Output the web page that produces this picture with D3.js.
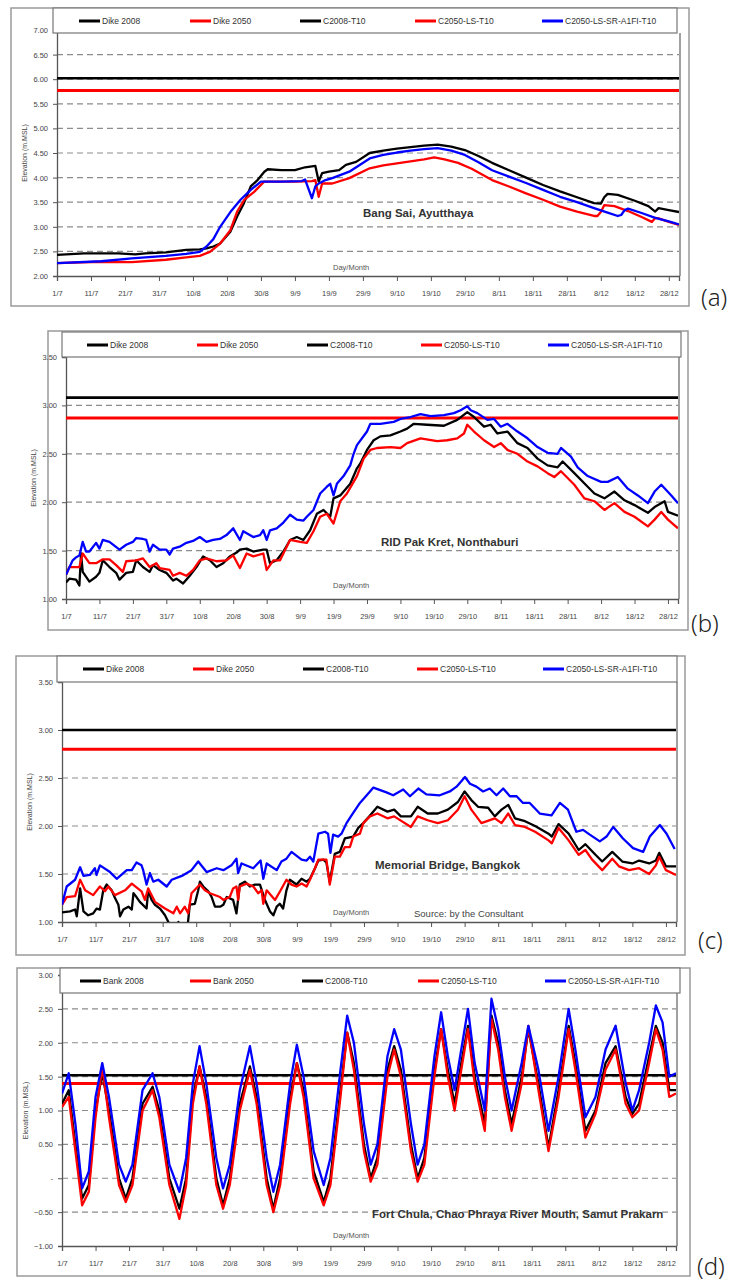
<!DOCTYPE html>
<html>
<head>
<meta charset="utf-8">
<script src="https://cdn.jsdelivr.net/npm/d3@7"></script>
<style>
  body { margin: 0; background: #fff; }
  svg { display: block; font-family: "Liberation Sans", Arial, sans-serif; }
</style>
</head>
<body>
<svg id="chart" width="735" height="1284"></svg>
<script>
// ---- data (day 0 = 1 July, values in m.MSL) ----
const tickDays = [0, 10, 20, 30, 40, 50, 60, 70, 80, 90, 100, 110, 120, 130, 140, 150, 160, 170, 180];
const tickLabels = ["1/7", "11/7", "21/7", "31/7", "10/8", "20/8", "30/8", "9/9", "19/9", "29/9",
                    "9/10", "19/10", "29/10", "8/11", "18/11", "28/11", "8/12", "18/12", "28/12"];
const dikeNames = ["Dike 2008", "Dike 2050", "C2008-T10", "C2050-LS-T10", "C2050-LS-SR-A1FI-T10"];
const bankNames = ["Bank 2008", "Bank 2050", "C2008-T10", "C2050-LS-T10", "C2050-LS-SR-A1FI-T10"];

const yTicksA = [2, 2.5, 3, 3.5, 4, 4.5, 5, 5.5, 6, 6.5, 7];
const yTicksBC = [1, 1.5, 2, 2.5, 3, 3.5];
const yTicksD = [-1, -0.5, 0, 0.5, 1, 1.5, 2, 2.5, 3];

// (a) Bang Sai
const levelsA = [6.02, 5.77];
const aC2008 = [[0,2.43],[8,2.46],[18,2.46],[23,2.44],[26,2.46],[32,2.48],[38,2.53],[42,2.54],[44,2.56],[46,2.6],[48,2.66],[51,2.9],[53,3.21],[55,3.48],[57,3.82],[59,3.95],[61,4.12],[62,4.17],[66,4.15],[70,4.15],[73,4.21],[76,4.24],[77,3.92],[78,4.09],[80,4.12],[83,4.15],[85,4.26],[88,4.32],[92,4.5],[96,4.55],[100,4.59],[104,4.62],[108,4.65],[112,4.67],[116,4.63],[120,4.56],[124,4.44],[128,4.3],[133,4.15],[138,4.0],[143,3.85],[148,3.72],[153,3.6],[158,3.48],[160,3.47],[161,3.6],[162,3.67],[165,3.65],[170,3.53],[174,3.42],[176,3.31],[177,3.38],[180,3.34],[183,3.3]];
const aC2050 = [[0,2.26],[13,2.29],[22,2.28],[32,2.33],[38,2.38],[42,2.41],[45,2.49],[48,2.66],[51,2.93],[53,3.31],[55,3.54],[58,3.71],[61,3.92],[70,3.92],[75,3.93],[76,3.95],[77,3.61],[78,3.88],[81,3.88],[86,3.99],[92,4.19],[96,4.25],[100,4.29],[104,4.33],[108,4.37],[111,4.41],[114,4.37],[118,4.3],[122,4.18],[128,3.95],[133,3.82],[138,3.68],[143,3.55],[148,3.41],[153,3.31],[158,3.22],[159,3.22],[160,3.3],[161,3.44],[164,3.42],[168,3.32],[172,3.2],[175,3.1],[176,3.18],[177,3.17],[180,3.1],[183,3.04]];
const aA1FI = [[0,2.26],[13,2.3],[22,2.36],[32,2.41],[38,2.45],[42,2.49],[44,2.6],[46,2.75],[48,3.0],[51,3.3],[54,3.55],[57,3.75],[60,3.92],[66,3.92],[72,3.93],[73,3.96],[75,3.58],[76,3.82],[77,3.88],[79,3.95],[81,3.99],[86,4.12],[92,4.39],[96,4.46],[100,4.51],[104,4.55],[108,4.58],[112,4.6],[116,4.55],[120,4.46],[124,4.31],[128,4.15],[133,4.02],[138,3.89],[143,3.75],[148,3.61],[153,3.5],[158,3.38],[162,3.29],[165,3.22],[166,3.24],[167,3.34],[168,3.37],[172,3.28],[176,3.18],[180,3.11],[183,3.05]];

// (b) RID Pak Kret
const levelsB = [3.08, 2.87];
const bC2008 = [[0,1.17],[1,1.21],[3,1.2],[4,1.14],[4.5,1.47],[5,1.28],[7,1.18],[9,1.23],[10,1.27],[11,1.4],[13,1.33],[15,1.27],[16,1.2],[18,1.27],[20,1.28],[21,1.4],[23,1.33],[25,1.28],[26,1.35],[28,1.3],[30,1.27],[32,1.19],[33,1.21],[35,1.16],[37,1.24],[39,1.33],[41,1.44],[43,1.4],[45,1.33],[47,1.37],[49,1.44],[51,1.48],[52,1.51],[54,1.52],[56,1.49],[59,1.51],[60,1.51],[61,1.37],[63,1.4],[65,1.49],[67,1.61],[69,1.64],[71,1.61],[73,1.71],[75,1.88],[77,1.92],[79,1.85],[80,2.04],[82,2.07],[85,2.19],[87,2.35],[88,2.4],[90,2.54],[92,2.64],[94,2.68],[97,2.69],[100,2.73],[102,2.76],[104,2.81],[108,2.8],[113,2.79],[117,2.85],[120,2.93],[122,2.88],[125,2.78],[127,2.8],[129,2.71],[132,2.73],[135,2.61],[138,2.56],[141,2.45],[144,2.38],[147,2.36],[148.5,2.42],[152,2.3],[156,2.16],[158,2.09],[161,2.04],[164,2.11],[167,2.02],[170,1.97],[174,1.89],[176,1.95],[179,2.01],[180,1.9],[183,1.86]];
const bC2050 = [[0,1.25],[1,1.33],[4,1.33],[5,1.47],[7,1.37],[9,1.37],[11,1.41],[13,1.41],[15,1.35],[17,1.28],[18,1.39],[21,1.4],[23,1.42],[25,1.33],[27,1.37],[28,1.32],[31,1.3],[32,1.24],[34,1.27],[36,1.24],[38,1.3],[40,1.4],[42,1.42],[45,1.39],[48,1.4],[50,1.45],[52,1.32],[54,1.47],[56,1.44],[59,1.47],[60,1.3],[62,1.4],[64,1.4],[67,1.61],[70,1.59],[72,1.58],[74,1.7],[76,1.85],[78,1.88],[80,1.78],[82,2.01],[84,2.09],[87,2.27],[89,2.45],[91,2.54],[93,2.56],[97,2.57],[100,2.56],[102,2.61],[106,2.66],[111,2.63],[114,2.64],[117,2.66],[119,2.71],[120,2.8],[122,2.73],[125,2.64],[128,2.57],[130,2.61],[132,2.54],[135,2.5],[138,2.42],[141,2.37],[144,2.3],[146,2.26],[148,2.32],[152,2.18],[155,2.04],[158,2.01],[161,1.92],[164,1.99],[167,1.9],[170,1.85],[174,1.75],[176,1.82],[178,1.9],[180,1.82],[183,1.73]];
const bA1FI = [[0,1.25],[2,1.4],[3,1.43],[4,1.45],[5,1.59],[6,1.49],[7,1.49],[9,1.58],[10,1.52],[11,1.61],[13,1.59],[16,1.51],[18,1.56],[20,1.59],[21,1.63],[23,1.62],[24,1.61],[25,1.49],[26,1.56],[28,1.51],[30,1.51],[31,1.46],[32,1.52],[34,1.54],[36,1.58],[38,1.6],[40,1.64],[42,1.59],[44,1.61],[46,1.62],[48,1.66],[50,1.73],[52,1.61],[53,1.7],[56,1.64],[58,1.66],[59,1.71],[60,1.61],[61,1.71],[63,1.73],[65,1.79],[67,1.87],[69,1.82],[71,1.81],[72,1.85],[74,1.92],[76,2.09],[78,2.16],[79,2.19],[80,2.07],[81,2.19],[83,2.27],[85,2.38],[86,2.5],[87,2.59],[90,2.73],[91,2.81],[94,2.81],[98,2.83],[100,2.86],[103,2.88],[106,2.91],[109,2.89],[113,2.9],[116,2.92],[118,2.95],[120,2.99],[121,2.95],[123,2.92],[126,2.85],[128,2.86],[130,2.78],[132,2.81],[135,2.73],[138,2.66],[141,2.57],[144,2.51],[147,2.5],[148,2.56],[151,2.47],[153,2.36],[156,2.27],[160,2.21],[162,2.21],[165,2.26],[168,2.14],[171,2.07],[174,1.99],[176,2.11],[178,2.18],[181,2.07],[183,1.99]];

// (c) Memorial Bridge
const levelsC = [3.0, 2.8];
const cC2008 = [[0,1.1],[2.4,1.11],[3.9,1.13],[4.4,1.06],[5.4,1.35],[6.4,1.11],[7.8,1.07],[9.3,1.09],[10.3,1.14],[11.3,1.13],[12.3,1.33],[13.3,1.39],[14.8,1.33],[15.8,1.25],[16.8,1.18],[17.3,1.06],[18.3,1.13],[19.8,1.16],[20.8,1.13],[21.3,1.3],[22.2,1.26],[23.2,1.21],[25.2,1.14],[25.7,1.33],[26.7,1.23],[27.7,1.18],[29.2,1.14],[30.7,1.07],[31.7,1.0],[32.7,0.92],[33.7,0.85],[34.7,1.0],[35.6,0.95],[36.6,0.92],[37.1,0.85],[38.1,1.18],[39.6,1.19],[40.6,1.33],[41.1,1.42],[42.1,1.37],[43.6,1.32],[44.6,1.26],[45.6,1.16],[47.1,1.16],[48.1,1.18],[49.1,1.26],[51,1.23],[52,1.09],[53,1.39],[54.5,1.42],[56,1.37],[57.5,1.39],[59,1.39],[60.5,1.23],[62,1.11],[63,1.07],[64,1.16],[64.9,1.19],[65.9,1.14],[66.9,1.33],[67.9,1.44],[69.9,1.39],[71.4,1.45],[72.9,1.42],[73.9,1.45],[75.4,1.56],[76.4,1.64],[77.9,1.65],[78.8,1.62],[79.8,1.42],[81.3,1.71],[82.8,1.73],[84.3,1.87],[86.8,1.89],[88.3,1.98],[89.8,2.03],[91.8,2.11],[94,2.2],[97,2.15],[99,2.17],[101,2.1],[104,2.1],[106,2.2],[109,2.13],[112,2.13],[115,2.17],[118,2.25],[120,2.36],[122,2.27],[124,2.2],[127,2.19],[129,2.1],[131,2.17],[133,2.22],[135,2.08],[138,2.05],[141,2.0],[145,1.92],[146,1.89],[148,2.02],[151,1.92],[154,1.75],[156,1.81],[159,1.7],[161,1.63],[164,1.73],[167,1.63],[170,1.61],[172,1.64],[175,1.61],[177,1.64],[178,1.72],[180,1.58],[183,1.58]];
const cC2050 = [[0,1.18],[1.4,1.26],[3.9,1.27],[5.4,1.44],[6.9,1.33],[9.3,1.28],[11.3,1.37],[12.8,1.32],[13.8,1.37],[15.8,1.28],[18.8,1.33],[20.8,1.4],[23.7,1.32],[24.7,1.23],[25.7,1.35],[27.7,1.21],[30.7,1.14],[33.2,1.09],[34.2,1.16],[35.2,1.09],[36.6,1.16],[37.6,1.09],[38.6,1.3],[41.1,1.39],[42.6,1.33],[44.1,1.3],[47.1,1.26],[48.1,1.23],[50,1.26],[51,1.35],[52,1.37],[52.5,1.23],[53,1.37],[55,1.4],[57,1.37],[58.5,1.3],[59.5,1.33],[60,1.19],[61,1.33],[63.5,1.23],[65,1.32],[66.9,1.44],[68.4,1.39],[69.9,1.37],[71.4,1.4],[72.9,1.37],[73.9,1.44],[75.4,1.56],[76.4,1.65],[78.8,1.65],[79.8,1.39],[81.3,1.68],[82.8,1.68],[84.3,1.78],[85.8,1.78],[86.8,1.89],[88.8,1.92],[89.8,2.03],[91.8,2.1],[94,2.13],[97,2.08],[99,2.1],[104,1.99],[106,2.1],[109,2.06],[112,2.03],[115,2.06],[118,2.17],[120,2.31],[122,2.17],[125,2.03],[129,2.08],[131,2.03],[133,2.13],[135,2.01],[138,1.99],[141,1.94],[145,1.85],[146,1.82],[148,1.98],[151,1.85],[154,1.7],[156,1.75],[158,1.65],[161,1.54],[164,1.66],[166,1.58],[169,1.54],[172,1.56],[175,1.5],[177,1.59],[178,1.68],[180,1.54],[183,1.49]];
const cA1FI = [[0,1.18],[1.4,1.37],[3.9,1.44],[5.4,1.57],[6.4,1.48],[8.3,1.49],[9.8,1.56],[10.3,1.49],[11.3,1.59],[14.3,1.52],[16.3,1.45],[19.3,1.54],[20.8,1.54],[22.2,1.62],[23.7,1.59],[24.2,1.54],[25.2,1.39],[26.2,1.51],[27.2,1.42],[28.7,1.44],[31.2,1.37],[32.7,1.44],[35.7,1.48],[38.6,1.54],[40.6,1.63],[43.1,1.52],[46.1,1.56],[48.1,1.54],[50.5,1.59],[52,1.66],[52.5,1.51],[53.5,1.61],[57,1.56],[59.2,1.64],[60,1.45],[61,1.61],[64,1.54],[65.4,1.63],[66.9,1.66],[68.4,1.73],[71.4,1.65],[72.9,1.64],[73.9,1.68],[74.9,1.63],[76.4,1.92],[78.4,1.94],[79.3,1.92],[80,1.72],[80.8,1.91],[82.3,1.89],[83.3,1.92],[84.8,2.03],[86.3,2.11],[88.8,2.24],[91.8,2.36],[92.8,2.4],[96.7,2.35],[98.7,2.32],[101.7,2.38],[103.7,2.31],[106.2,2.39],[108.6,2.33],[112.6,2.32],[115.6,2.36],[117.6,2.41],[120.1,2.51],[121.6,2.44],[123.5,2.41],[125.5,2.36],[127.5,2.39],[129.5,2.32],[131.5,2.39],[133.5,2.31],[135.5,2.31],[137.4,2.24],[139.4,2.24],[142.4,2.13],[145.9,2.11],[148.4,2.24],[150.8,2.17],[153.3,1.94],[155.3,1.96],[157.3,1.91],[160.3,1.84],[162.3,1.89],[164.3,1.99],[167.2,1.87],[170.2,1.77],[173.2,1.73],[175.2,1.89],[178.2,2.01],[180.2,1.92],[182.6,1.76]];

// (d) Fort Chula
const levelsD = [1.52, 1.4];
const dC2008 = [[0,1.1],[2,1.3],[4,0.5],[6,-0.3],[8,-0.1],[10,1.0],[12,1.55],[14,1.0],[17,0.0],[19,-0.3],[21,0.0],[24,1.1],[27,1.35],[29,1.0],[32,0.0],[35,-0.45],[37,0.0],[39,1.2],[41,1.65],[43,1.2],[46,0.0],[48,-0.4],[50,0.0],[53,1.1],[56,1.65],[58,1.2],[61,0.0],[63,-0.45],[65,0.0],[68,1.2],[70,1.7],[72,1.3],[75,0.1],[78,-0.35],[80,0.0],[83,1.3],[85,2.15],[87,1.7],[90,0.5],[92,0.0],[94,0.3],[97,1.6],[99,1.95],[101,1.6],[104,0.5],[106,0.0],[108,0.3],[111,1.6],[113,2.2],[115,1.6],[117,1.1],[119,1.7],[121,2.25],[123,1.5],[126,0.8],[128,2.4],[130,2.0],[132,1.3],[134,0.8],[137,1.5],[139,2.2],[142,1.4],[145,0.45],[148,1.3],[151,2.25],[153,1.7],[156,0.7],[159,1.0],[162,1.7],[165,1.95],[168,1.2],[170,0.95],[172,1.1],[175,1.8],[177,2.25],[179,2.0],[181,1.3],[183,1.3]];
const dC2050 = [[0,1.05],[2,1.2],[4,0.4],[6,-0.4],[8,-0.2],[10,0.9],[12,1.65],[14,0.9],[17,-0.1],[19,-0.35],[21,-0.1],[24,1.0],[27,1.3],[29,0.9],[32,-0.1],[35,-0.6],[37,-0.1],[39,1.1],[41,1.65],[43,1.1],[46,-0.1],[48,-0.45],[50,-0.1],[53,1.0],[56,1.6],[58,1.1],[61,-0.1],[63,-0.5],[65,-0.1],[68,1.1],[70,1.7],[72,1.2],[75,0.0],[78,-0.4],[80,-0.1],[83,1.2],[85,2.15],[87,1.6],[90,0.4],[92,-0.05],[94,0.2],[97,1.5],[99,1.9],[101,1.5],[104,0.4],[106,-0.05],[108,0.2],[111,1.5],[113,2.2],[115,1.5],[117,1.0],[119,1.6],[121,2.2],[123,1.4],[126,0.7],[128,2.35],[130,1.9],[132,1.2],[134,0.7],[137,1.4],[139,2.25],[142,1.3],[145,0.4],[148,1.2],[151,2.2],[153,1.6],[156,0.6],[159,0.95],[162,1.6],[165,1.9],[168,1.1],[170,0.9],[172,1.0],[175,1.7],[177,2.2],[179,1.9],[181,1.2],[183,1.25]];
const dA1FI = [[0,1.25],[2,1.55],[4,0.8],[6,-0.15],[8,0.1],[10,1.2],[12,1.7],[14,1.2],[17,0.2],[19,-0.05],[21,0.2],[24,1.3],[27,1.55],[29,1.2],[32,0.2],[35,-0.2],[37,0.3],[39,1.4],[41,1.95],[43,1.4],[46,0.3],[48,-0.15],[50,0.2],[53,1.3],[56,1.95],[58,1.4],[61,0.3],[63,-0.2],[65,0.2],[68,1.4],[70,1.97],[72,1.5],[75,0.4],[78,-0.1],[80,0.3],[83,1.6],[85,2.4],[87,2.0],[90,0.8],[92,0.2],[94,0.5],[97,1.8],[99,2.2],[101,1.9],[104,0.8],[106,0.2],[108,0.5],[111,1.8],[113,2.45],[115,1.8],[117,1.3],[119,1.9],[121,2.5],[123,1.7],[126,1.0],[128,2.65],[130,2.2],[132,1.5],[134,1.0],[137,1.7],[139,2.25],[142,1.6],[145,0.7],[148,1.5],[151,2.5],[153,1.9],[156,0.9],[159,1.2],[162,1.9],[165,2.25],[168,1.4],[170,1.0],[172,1.3],[175,2.0],[177,2.55],[179,2.3],[181,1.5],[183,1.55]];

// ---- layout ----
const svg = d3.select("#chart");
const seriesColors = ["#000000", "#ff0000", "#000000", "#ff0000", "#0000ff"];

const panels = [
  { id: "a", frame: [11, 8, 689, 306], legend: [53, 8, 677, 33], x0: 57, x1: 679, yTop: 30, yBot: 276,
    yTicks: yTicksA, levels: levelsA, series: [aC2008, aC2050, aA1FI], names: dikeNames,
    legendX: [79, 190, 300, 415, 542], legendY: 21, ylabX: 27,
    title: "Bang Sai, Ayutthaya", titlePos: [363, 217], dayPos: [333, 270], tag: [701, 306] },
  { id: "b", frame: [48, 331, 688, 630], legend: [62, 332, 681, 357], x0: 66, x1: 678, yTop: 357, yBot: 599,
    yTicks: yTicksBC, levels: levelsB, series: [bC2008, bC2050, bA1FI], names: dikeNames,
    legendX: [87, 197, 307, 421, 548], legendY: 345, ylabX: 36,
    title: "RID Pak Kret, Nonthaburi", titlePos: [381, 546], dayPos: [333, 588], tag: [691, 632] },
  { id: "c", frame: [16, 656, 685, 955], legend: [57, 656, 677, 682], x0: 62, x1: 676, yTop: 682, yBot: 922,
    yTicks: yTicksBC, levels: levelsC, series: [cC2008, cC2050, cA1FI], names: dikeNames,
    legendX: [83, 193, 303, 417, 543], legendY: 669, ylabX: 32,
    title: "Memorial Bridge, Bangkok", titlePos: [375, 869], dayPos: [333, 915], tag: [698, 949],
    note: "Source: by the Consultant", notePos: [414, 917] },
  { id: "d", frame: [17, 968, 690, 1276], legend: [60, 968, 680, 993], x0: 62, x1: 676, yTop: 975, yBot: 1246,
    yTicks: yTicksD, levels: levelsD, series: [dC2008, dC2050, dA1FI], names: bankNames,
    legendX: [80, 190, 302, 418, 545], legendY: 981, ylabX: 28,
    title: "Fort Chula, Chao Phraya River Mouth, Samut Prakarn", titlePos: [372, 1218], dayPos: [333, 1238], tag: [697, 1275] }
];

function yFmt(d) {
  if (d === 0) return "-";
  return d3.format(".2f")(d);
}

function drawPanel(p) {
  const g = svg.append("g").attr("class", "panel-" + p.id);
  const yMin = d3.min(p.yTicks), yMax = d3.max(p.yTicks);

  const x = d3.scaleLinear().domain([0, 183]).range([p.x0, p.x1]);
  const y = d3.scaleLinear().domain([yMin, yMax]).range([p.yBot, p.yTop]);

  // outer frame
  g.append("rect")
    .attr("x", p.frame[0]).attr("y", p.frame[1])
    .attr("width", p.frame[2] - p.frame[0]).attr("height", p.frame[3] - p.frame[1])
    .attr("fill", "#fff").attr("stroke", "#9a9a9a").attr("stroke-width", 1.5);

  // dashed gridlines
  g.append("g")
    .selectAll("line")
    .data(p.yTicks.filter(d => d > yMin && d < yMax))
    .join("line")
      .attr("x1", p.x0).attr("x2", p.x1)
      .attr("y1", d => y(d)).attr("y2", d => y(d))
      .attr("stroke", "#8c8c8c").attr("stroke-width", 1.2)
      .attr("stroke-dasharray", "6,4");

  // right edge of plot area
  g.append("line")
    .attr("x1", p.x1 + 1).attr("x2", p.x1 + 1)
    .attr("y1", p.legend[3]).attr("y2", p.yBot)
    .attr("stroke", "#a0a0a0").attr("stroke-width", 2);

  // axes
  const yAxis = g.append("g")
    .attr("transform", "translate(" + p.x0 + ",0)")
    .call(d3.axisLeft(y).tickValues(p.yTicks).tickSize(4).tickPadding(5).tickFormat(yFmt));
  yAxis.select(".domain").attr("stroke", "#555").attr("stroke-width", 1.3);
  yAxis.selectAll(".tick line").attr("stroke", "#555");
  yAxis.selectAll("text").attr("font-size", 7.5).attr("fill", "#444").attr("font-family", "Liberation Sans, Arial");

  const xAxis = g.append("g")
    .attr("transform", "translate(0," + p.yBot + ")")
    .call(d3.axisBottom(x).tickValues(tickDays).tickSize(5).tickPadding(10)
      .tickFormat((d, i) => tickLabels[i]));
  xAxis.select(".domain").attr("stroke", "#555").attr("stroke-width", 1.3);
  xAxis.selectAll(".tick line").attr("stroke", "#555");
  xAxis.selectAll("text").attr("font-size", 7.5).attr("fill", "#444").attr("font-family", "Liberation Sans, Arial");

  // clip for the series
  svg.append("clipPath").attr("id", "clip-" + p.id)
    .append("rect").attr("x", p.x0).attr("y", p.yTop - 2)
    .attr("width", p.x1 - p.x0).attr("height", p.yBot - p.yTop + 2);

  // dike / bank levels
  g.append("g").selectAll("line")
    .data(p.levels)
    .join("line")
      .attr("x1", x(0)).attr("x2", x(183))
      .attr("y1", d => y(d)).attr("y2", d => y(d))
      .attr("stroke", (d, i) => seriesColors[i])
      .attr("stroke-width", (d, i) => i === 0 ? 2.6 : 3);

  const line = d3.line()
    .x(d => x(d[0]))
    .y(d => y(d[1]));

  g.append("g").attr("clip-path", "url(#clip-" + p.id + ")")
    .selectAll("path")
    .data(p.series)
    .join("path")
      .attr("d", line)
      .attr("fill", "none")
      .attr("stroke", (d, i) => seriesColors[i + 2])
      .attr("stroke-width", 2.3)
      .attr("stroke-linejoin", "round");

  // legend
  const lg = g.append("g");
  lg.append("rect")
    .attr("x", p.legend[0]).attr("y", p.legend[1])
    .attr("width", p.legend[2] - p.legend[0]).attr("height", p.legend[3] - p.legend[1])
    .attr("fill", "#fff").attr("stroke", "#777").attr("stroke-width", 1.2);
  const item = lg.selectAll("g.item")
    .data(p.names)
    .join("g").attr("class", "item")
    .attr("transform", (d, i) => "translate(" + p.legendX[i] + "," + p.legendY + ")");
  item.append("line")
    .attr("x1", 0).attr("x2", 21).attr("y1", 0).attr("y2", 0)
    .attr("stroke", (d, i) => seriesColors[i]).attr("stroke-width", 3);
  item.append("text")
    .attr("x", 23).attr("y", 3)
    .attr("font-size", 8.5).attr("fill", "#333")
    .text(d => d);

  // texts
  g.append("text")
    .attr("transform", "translate(" + p.ylabX + "," + ((p.yTop + p.yBot) / 2) + ") rotate(-90)")
    .attr("text-anchor", "middle").attr("font-size", 7).attr("fill", "#444")
    .text("Elevation (m.MSL)");

  g.append("text")
    .attr("x", p.dayPos[0]).attr("y", p.dayPos[1])
    .attr("font-size", 7.5).attr("fill", "#555")
    .text("Day/Month");

  g.append("text")
    .attr("x", p.titlePos[0]).attr("y", p.titlePos[1])
    .attr("font-size", 11.5).attr("font-weight", "bold").attr("fill", "#333")
    .text(p.title);

  if (p.note) {
    g.append("text")
      .attr("x", p.notePos[0]).attr("y", p.notePos[1])
      .attr("font-size", 9.5).attr("fill", "#444")
      .text(p.note);
  }

  svg.append("text")
    .attr("x", p.tag[0]).attr("y", p.tag[1])
    .attr("font-family", "Noto Sans, DejaVu Sans, sans-serif")
    .attr("font-size", 24).attr("font-weight", 300).attr("fill", "#222")
    .text("(" + p.id + ")");
}

panels.forEach(drawPanel);
</script>
</body>
</html>
